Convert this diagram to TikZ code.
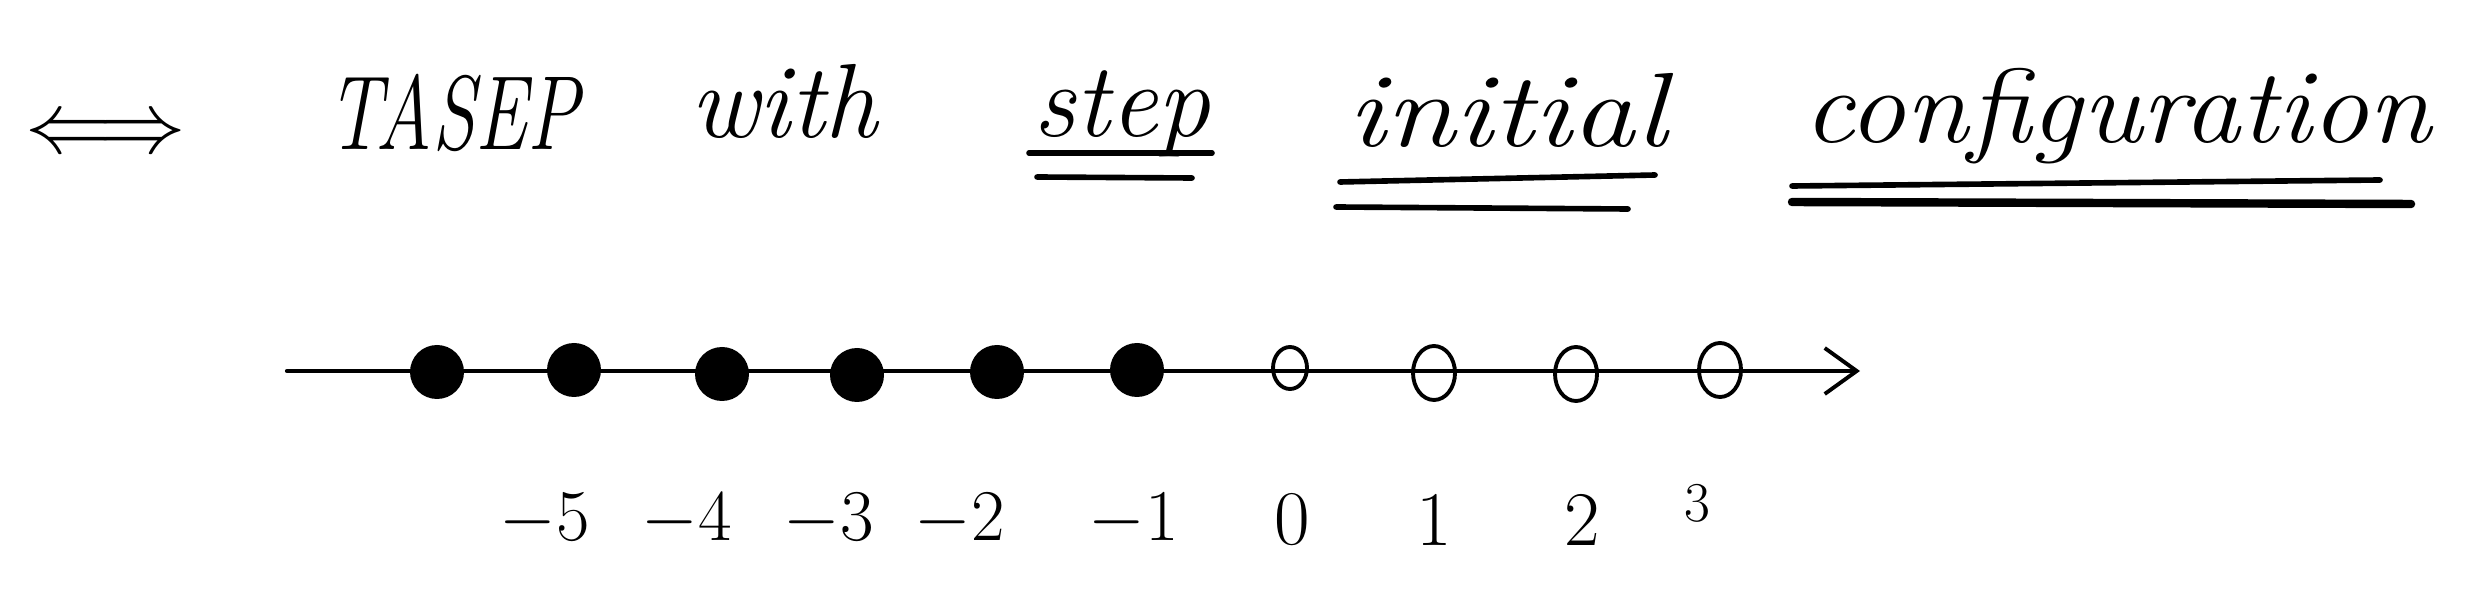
\documentclass[tikz,border=0pt]{standalone}
\usepackage{graphicx}
\usetikzlibrary{positioning, arrows.meta, shapes.geometric}
\definecolor{inkColor}{RGB}{0,0,0}
\def\rowAxis{2.41}
\def\rowNum{0.92}
\def\axisWest{2.87}
\def\axisEast{18.60}

\begin{document}
\begin{tikzpicture}[
    >={Straight Barb[length=0.32cm, width=0.46cm, line width=1.1pt]},
    axis/.style      ={->, line width=1.2pt, inkColor, line cap=round},
    uline/.style     ={line width=1.6pt, inkColor, line cap=round},
    ulineBold/.style ={line width=2.4pt, inkColor, line cap=round},
    handWord/.style  ={font=\fontsize{30}{36}\selectfont\itshape, anchor=base, inner sep=0pt, text=inkColor},
    numLabel/.style  ={font=\fontsize{22}{26}\selectfont, anchor=center, inner sep=0pt, text=inkColor},
    fullSite/.style  ={circle, fill=inkColor, draw=none, minimum size=0.54cm, inner sep=0pt},
    emptySite/.style ={ellipse, draw=inkColor, line width=1.1pt, minimum width=0.42cm, minimum height=0.54cm, inner sep=0pt},
]
\useasboundingbox (0,0) rectangle (24.72,6.12);

% =====================================================
% TITLE LINE
% =====================================================
\node[font=\fontsize{26}{30}\selectfont, inner sep=0pt] (equiv) at (1.06,4.76) {$\Longleftrightarrow$};
\node[handWord] (tasep)  at (4.53,4.62)  {\scalebox{0.74}[1]{TASEP}};
\node[handWord] (with)   at (7.84,4.74)  {with};
\node[handWord] (stepW)  at (11.22,4.75) {step};
\node[handWord] (initW)  at (15.07,4.65) {\scalebox{1.2}[1]{initial}};
\node[handWord] (confW)  at (21.17,4.69) {\scalebox{1.08}[1]{configuration}};

% double underlines
\draw[uline]     (10.29,4.59) -- (12.12,4.59);
\draw[uline]     (10.37,4.35) -- (11.92,4.34);
\draw[uline]     (13.40,4.30) -- (16.55,4.37);
\draw[uline]     (13.36,4.05) -- (16.28,4.03);
\draw[uline]     (17.92,4.26) -- (23.80,4.32);
\draw[ulineBold] (17.92,4.10) -- (24.11,4.08);

% =====================================================
% LATTICE: axis with particles and holes
% =====================================================
\coordinate (axisStart) at (\axisWest,\rowAxis);
\coordinate (axisEnd)   at (\axisEast,\rowAxis);
\draw[axis] (axisStart) -- (axisEnd);

% occupied sites
\node[fullSite] (pA) at (4.37,2.40)  {};
\node[fullSite] (pB) at (5.74,2.42)  {};
\node[fullSite] (pC) at (7.22,2.38)  {};
\node[fullSite] (pD) at (8.57,2.37)  {};
\node[fullSite] (pE) at (9.97,2.40)  {};
\node[fullSite] (pF) at (11.37,2.42) {};

% empty sites
\node[emptySite, minimum width=0.34cm, minimum height=0.42cm] (hA) at (12.90,2.44) {};
\node[emptySite] (hB) at (14.34,2.39) {};
\node[emptySite] (hC) at (15.76,2.38) {};
\node[emptySite] (hD) at (17.20,2.42) {};

% =====================================================
% SITE NUMBERS
% =====================================================
\node[numLabel] (labMfive)  at (5.45,\rowNum)  {$-5$};
\node[numLabel] (labMfour)  at (6.87,\rowNum)  {$-4$};
\node[numLabel] (labMthree) at (8.29,\rowNum)  {$-3$};
\node[numLabel] (labMtwo)   at (9.60,\rowNum)  {$-2$};
\node[numLabel] (labMone)   at (11.34,\rowNum) {$-1$};
\node[numLabel] (labZero)   at (12.92,\rowNum) {0};
\node[numLabel] (labOne)    at (14.34,\rowNum) {1};
\node[numLabel] (labTwo)    at (15.82,\rowNum) {2};
\node[numLabel, font=\fontsize{16}{20}\selectfont] (labThree) at (16.97,1.09) {3};

\end{tikzpicture}
\end{document}
